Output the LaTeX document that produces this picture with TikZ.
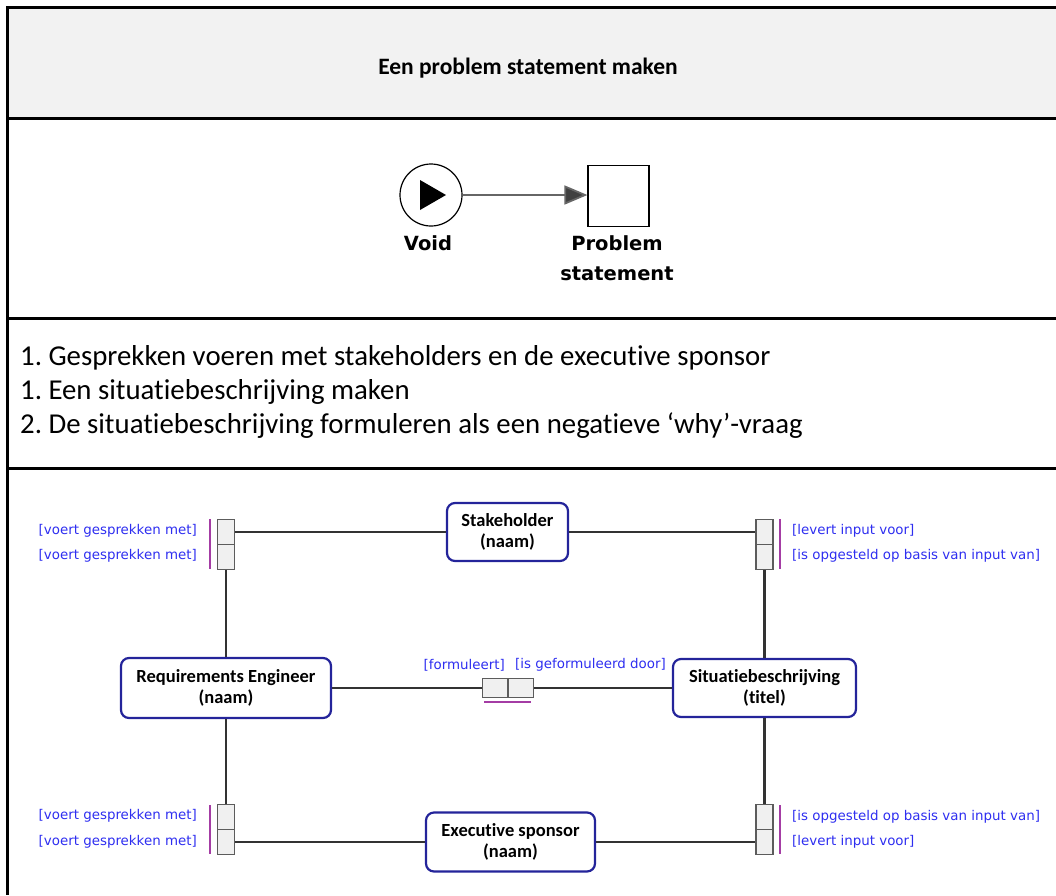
\documentclass[tikz,border=0pt]{standalone}
\usepackage{fontspec}
\setmainfont{Carlito}[Ligatures=NoCommon]
\newfontfamily\notafont{DejaVu Sans}
\usetikzlibrary{arrows.meta}
\frenchspacing
\definecolor{headgray}{HTML}{F2F2F2}
\definecolor{entblue}{HTML}{24249A}
\definecolor{rolblue}{HTML}{2E2EF0}
\definecolor{rolpurple}{HTML}{A43CA4}
\definecolor{linegray}{HTML}{333333}
\definecolor{cellgray}{HTML}{F0F0F0}
\tikzset{
  rule/.style={line width=3pt, black},
  entity/.style={draw=entblue, line width=2.2pt, fill=white, rounded corners=8pt,
    align=center, inner sep=0pt, font=\bfseries\fontsize{18.5}{21.5}\selectfont},
  rolecell/.style={draw=linegray!80, line width=1.4pt, fill=cellgray, inner sep=0pt},
  vcell/.style={rolecell, minimum width=17pt, minimum height=25pt},
  hcell/.style={rolecell, minimum width=25.5pt, minimum height=19pt},
  link/.style={draw=linegray, line width=2.4pt},
  rolelabel/.style={text=rolblue, inner sep=0pt, font=\notafont\fontsize{13.4}{16}\selectfont},
  rolebar/.style={draw=rolpurple, line width=1.8pt},
  deliv/.style={inner sep=0pt, font=\notafont\bfseries\fontsize{19.5}{24}\selectfont},
}
\begin{document}
\begin{tikzpicture}[x=1pt, y=-1pt]
\useasboundingbox (0,0) rectangle (1056,895);

% table: header band and row rules
\fill[headgray] (9,9) rectangle (1056,117);
\draw[rule] (6,7.5) -- (1056,7.5);
\draw[rule] (7.5,6) -- (7.5,895);
\draw[rule] (6,118) -- (1056,118);
\draw[rule] (6,318) -- (1056,318);
\draw[rule] (6,468) -- (1056,468);

\node[font=\bfseries\fontsize{23.5}{28}\selectfont] (title) at (528,68) {Een problem statement maken};

% process fragment: start event to deliverable
\node[draw, circle, line width=1.2pt, minimum size=62pt, inner sep=0pt] (void) at (431,195) {};
\fill (420,180) -- (446,195) -- (420,210) -- cycle;
\node[draw, line width=1.2pt, minimum size=61pt, inner sep=0pt] (ps) at (618.5,196) {};
\draw[draw=black!60, line width=1.8pt, -{Triangle[length=23pt, width=19pt, fill=black!75]}] (void.east) -- (ps.west |- void.east);
\node[deliv] (voidlbl) at (428,243) {Void};
\node[deliv] (pslbl1) at (617,243) {Problem};
\node[deliv] (pslbl2) at (617,274) {statement};

% steps
\begin{scope}[every node/.style={anchor=west, inner sep=0pt, font=\fontsize{28.8}{34}\selectfont}]
\node (s1) at (20,358) {1. Gesprekken voeren met stakeholders en de executive sponsor};
\node (s2) at (20,392) {1. Een situatiebeschrijving maken};
\node (s3) at (20,426) {2. De situatiebeschrijving formuleren als een negatieve ‘why’-vraag};
\end{scope}

% information model: entities
\node[entity, minimum width=121pt, minimum height=58pt] (stake) at (507.5,532) {Stakeholder\\(naam)};
\node[entity, minimum width=210pt, minimum height=60pt] (req) at (226,688) {Requirements Engineer\\(naam)};
\node[entity, minimum width=183pt, minimum height=58pt] (sit) at (764.5,688) {Situatiebeschrijving\\(titel)};
\node[entity, minimum width=169pt, minimum height=59pt] (exec) at (510.5,842) {Executive sponsor\\(naam)};

% fact type cells
\node[vcell] (tl1) at (226,532) {};
\node[vcell] (tl2) at (226,557) {};
\node[vcell] (tr1) at (764.5,532) {};
\node[vcell] (tr2) at (764.5,557) {};
\node[vcell] (bl1) at (226,817) {};
\node[vcell] (bl2) at (226,842) {};
\node[vcell] (br1) at (764.5,817) {};
\node[vcell] (br2) at (764.5,842) {};
\node[hcell] (m1) at (495.25,688) {};
\node[hcell] (m2) at (520.75,688) {};

% connectors
\draw[link] (tl1.east) -- (stake.west);
\draw[link] (tl2.south) -- (req.north);
\draw[link] (stake.east) -- (tr1.west);
\draw[link] (tr2.south) -- (sit.north);
\draw[link] (req.south) -- (bl1.north);
\draw[link] (bl2.east) -- (exec.west);
\draw[link] (sit.south) -- (br1.north);
\draw[link] (exec.east) -- (br2.west);
\draw[link] (req.east) -- (m1.west);
\draw[link] (m2.east) -- (sit.west);

% uniqueness bars
\draw[rolebar] (210,519) -- (210,569);
\draw[rolebar] (780,519) -- (780,569);
\draw[rolebar] (210,805) -- (210,854);
\draw[rolebar] (780,805) -- (780,854);
\draw[rolebar] (484,702) -- (531,702);

% role readings
\node[rolelabel, anchor=east] (ltl1) at (197,531) {[voert gesprekken met]};
\node[rolelabel, anchor=east] (ltl2) at (197,556) {[voert gesprekken met]};
\node[rolelabel, anchor=west] (ltr1) at (792,531) {[levert input voor]};
\node[rolelabel, anchor=west] (ltr2) at (792,556) {[is opgesteld op basis van input van]};
\node[rolelabel, anchor=east] (lbl1) at (197,816) {[voert gesprekken met]};
\node[rolelabel, anchor=east] (lbl2) at (197,842) {[voert gesprekken met]};
\node[rolelabel, anchor=west] (lbr1) at (792,817) {[is opgesteld op basis van input van]};
\node[rolelabel, anchor=west] (lbr2) at (792,842) {[levert input voor]};
\node[rolelabel, anchor=east] (lm1) at (505,665) {[formuleert]};
\node[rolelabel, anchor=west] (lm2) at (515,665) {[is geformuleerd door]};
\end{tikzpicture}
\end{document}
